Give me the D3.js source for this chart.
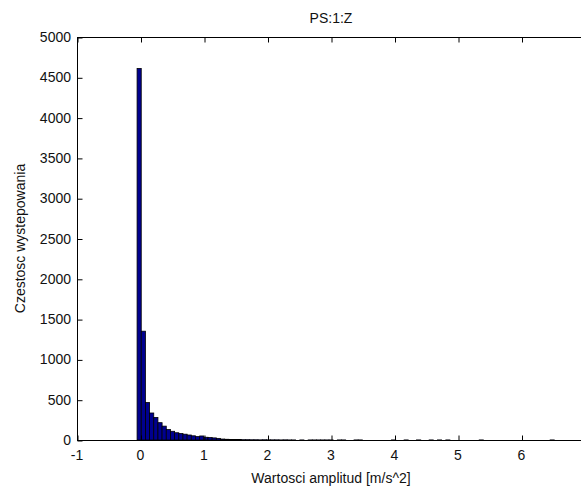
<!DOCTYPE html>
<html>
<head>
<meta charset="utf-8">
<script src="https://cdn.jsdelivr.net/npm/d3@7"></script>
<style>
  body { margin: 0; background: #fff; }
  text { font-family: "Liberation Sans", Arial, sans-serif; }
</style>
</head>
<body>
<svg id="chart"></svg>
<script>
// histogram bins (amplitude, m/s^2)
const binStart = -0.054;
const binWidth = 0.0657;
const counts = [
  4610, 1350, 465, 335, 280, 215, 172, 130, 108, 90,
  80, 72, 62, 52, 42, 50, 34, 30, 26, 20,
  12, 9, 7, 6, 5, 4, 4, 3, 3, 2,
  3, 2, 2, 2, 1, 2, 1, 1, 0, 1,
  0, 1, 1, 1, 1, 1, 1, 0, 1, 1,
  0, 0, 1, 1, 0, 0, 0, 0, 0, 0,
  0, 1, 0, 0, 1, 0, 0, 1, 0, 0,
  1, 0, 1, 0, 1, 0, 0, 0, 0, 0,
  0, 0, 1, 0, 0, 0, 0, 0, 0, 0,
  0, 0, 0, 0, 0, 0, 0, 0, 0, 1
];
const xTicks = [-1, 0, 1, 2, 3, 4, 5, 6];
const yTicks = [0, 500, 1000, 1500, 2000, 2500, 3000, 3500, 4000, 4500, 5000];
const titleText = "PS:1:Z";
const xLabel = "Wartosci amplitud [m/s^2]";
const yLabel = "Czestosc wystepowania";

const width = 581;
const height = 486;
const m = { left: 77, right: 585, top: 37, bottom: 440 };
const tickLen = 5;
const fontSize = 14;

const svg = d3.select("#chart")
  .attr("width", width)
  .attr("height", height);

svg.append("rect")
  .attr("width", width)
  .attr("height", height)
  .attr("fill", "#fff");

// axis runs to 7, its right edge falls just outside the window
const xScale = d3.scaleLinear().domain([-1, 7]).range([m.left, m.right]);
const yScale = d3.scaleLinear().domain([0, 5000]).range([m.bottom, m.top]);

const bins = counts.map((c, i) => ({
  x0: binStart + i * binWidth,
  x1: binStart + (i + 1) * binWidth,
  count: c
}));

// bars
svg.append("g")
  .selectAll("rect")
  .data(bins.filter(d => d.count > 0))
  .join("rect")
  .attr("x", d => xScale(d.x0))
  .attr("width", d => xScale(d.x1) - xScale(d.x0))
  .attr("y", d => yScale(d.count))
  .attr("height", d => yScale(0) - yScale(d.count))
  .attr("fill", "#00008f")
  .attr("stroke", "#000")
  .attr("stroke-width", 0.8);

// box
svg.append("rect")
  .attr("x", m.left + 0.5)
  .attr("y", m.top + 0.5)
  .attr("width", m.right - m.left)
  .attr("height", m.bottom - m.top)
  .attr("fill", "none")
  .attr("stroke", "#000")
  .attr("stroke-width", 1);

// ticks point inwards, on bottom, top and left
const xAxis = svg.append("g")
  .attr("transform", `translate(0.5, ${m.bottom + 0.5})`)
  .call(d3.axisTop(xScale).tickValues(xTicks).tickSize(tickLen).tickFormat(""));
const xAxisTop = svg.append("g")
  .attr("transform", `translate(0.5, ${m.top + 0.5})`)
  .call(d3.axisBottom(xScale).tickValues(xTicks).tickSize(tickLen).tickFormat(""));
const yAxis = svg.append("g")
  .attr("transform", `translate(${m.left + 0.5}, 0.5)`)
  .call(d3.axisRight(yScale).tickValues(yTicks).tickSize(tickLen).tickFormat(""));

[xAxis, xAxisTop, yAxis].forEach(axis => {
  axis.select(".domain").remove();
  axis.selectAll(".tick line").attr("stroke", "#000");
});

// tick labels
svg.append("g")
  .selectAll("text")
  .data(xTicks)
  .join("text")
  .attr("x", d => xScale(d))
  .attr("y", m.bottom + 20)
  .attr("text-anchor", "middle")
  .attr("font-size", fontSize)
  .attr("fill", "#111")
  .text(d => d);

svg.append("g")
  .selectAll("text")
  .data(yTicks)
  .join("text")
  .attr("x", m.left - 6)
  .attr("y", d => yScale(d) + 5)
  .attr("text-anchor", "end")
  .attr("font-size", fontSize)
  .attr("fill", "#111")
  .text(d => d);

// title and labels
svg.append("text")
  .attr("x", (m.left + m.right) / 2)
  .attr("y", 23)
  .attr("text-anchor", "middle")
  .attr("font-size", fontSize)
  .attr("fill", "#111")
  .text(titleText);

svg.append("text")
  .attr("x", (m.left + m.right) / 2)
  .attr("y", 483)
  .attr("text-anchor", "middle")
  .attr("font-size", fontSize)
  .attr("fill", "#111")
  .text(xLabel);

svg.append("text")
  .attr("transform", `translate(25, ${(m.top + m.bottom) / 2}) rotate(-90)`)
  .attr("text-anchor", "middle")
  .attr("font-size", fontSize)
  .attr("fill", "#111")
  .text(yLabel);
</script>
</body>
</html>
